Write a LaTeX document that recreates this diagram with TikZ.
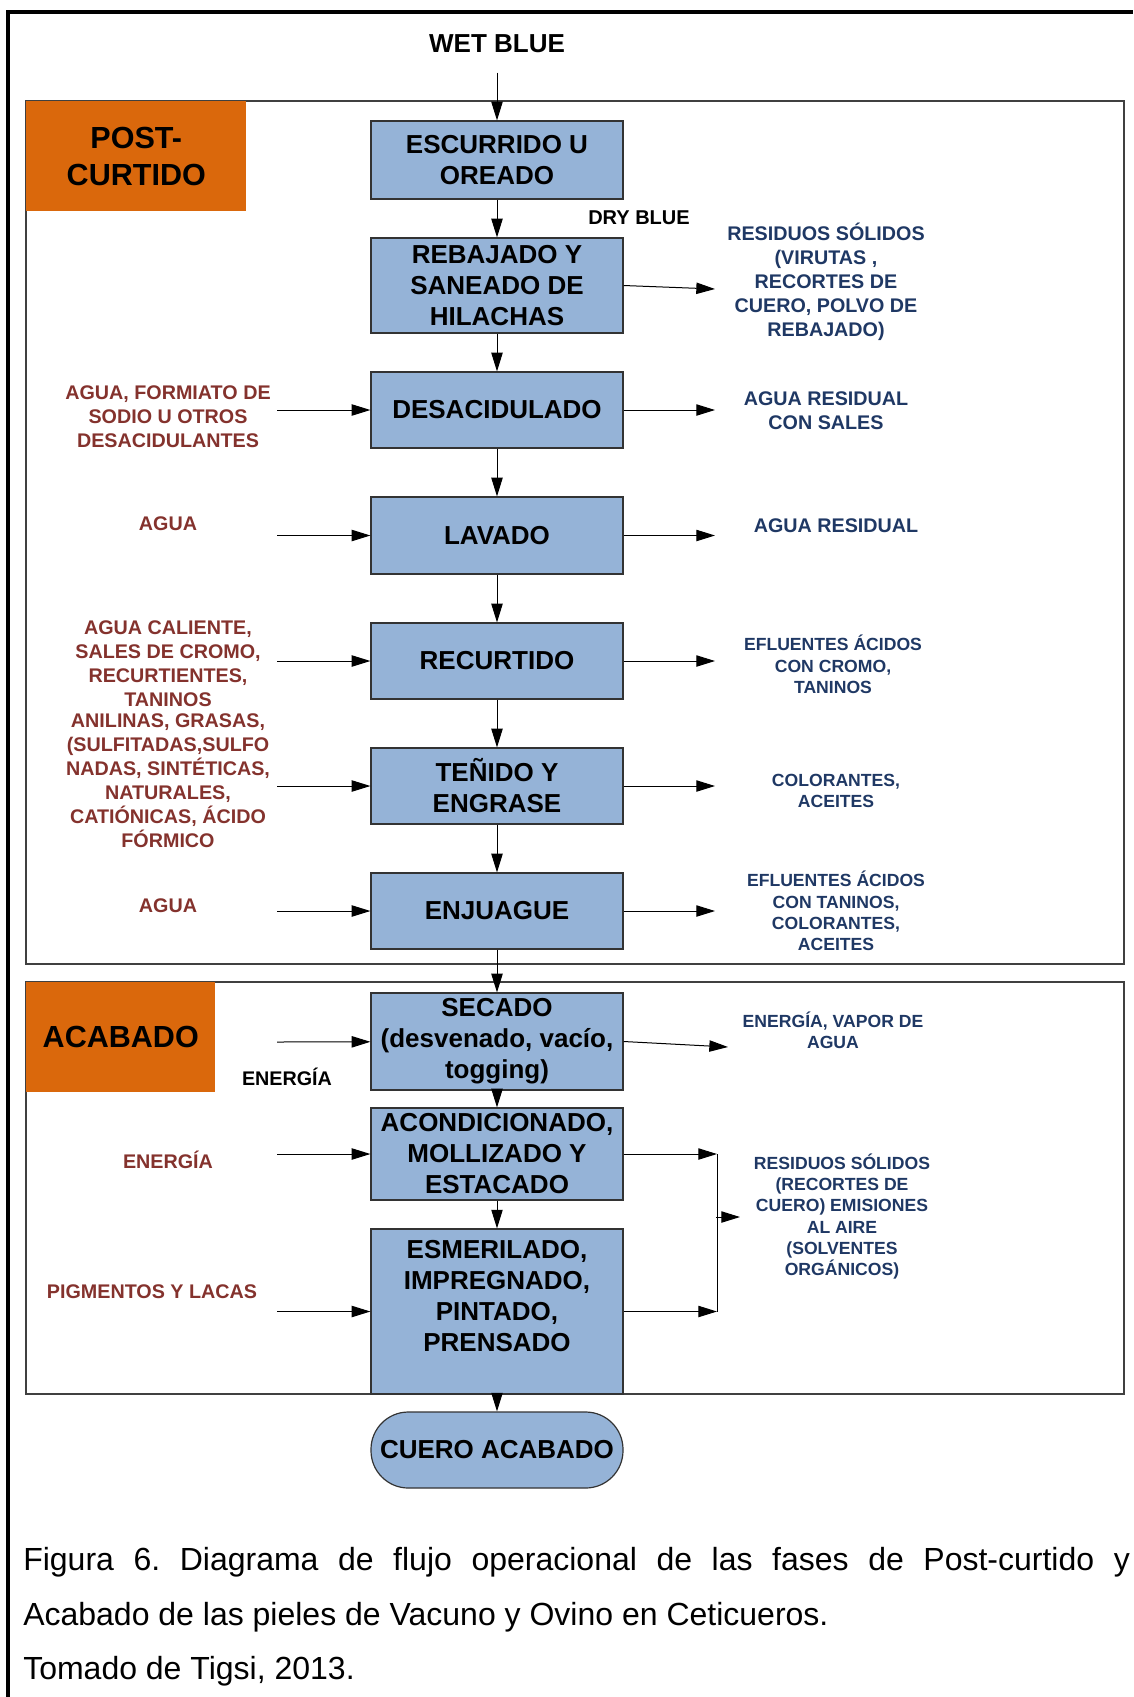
\documentclass[tikz,border=0pt]{standalone}
\usepackage{fontspec}
\setmainfont{Liberation Sans}
\usepackage{tikz}
\usetikzlibrary{arrows.meta}
\frenchspacing

\definecolor{boxblue}{RGB}{149,179,215}
\definecolor{phaseorange}{RGB}{218,104,12}
\definecolor{inred}{RGB}{132,50,45}
\definecolor{outblue}{RGB}{31,56,100}

\begin{document}
\begin{tikzpicture}[x=0.75pt,y=0.75pt,yscale=-1,xscale=1,
  proc/.style={draw=black!80, line width=0.9pt, fill=boxblue, minimum width=189pt, inner sep=0pt, align=center, font=\fontsize{19.5}{23.25}\selectfont\bfseries},
  term/.style={proc, rounded corners=28pt},
  phase/.style={draw=black!75, line width=0.8pt},
  phaselabel/.style={fill=phaseorange, anchor=north west, minimum height=82.5pt, inner sep=0pt, align=center, font=\fontsize{22.9}{27.75}\selectfont\bfseries},
  intext/.style={inner sep=0pt, align=center, text=inred, font=\fontsize{14.8}{18}\selectfont\bfseries},
  outtext/.style={inner sep=0pt, align=center, text=outblue, font=\fontsize{14.8}{18}\selectfont\bfseries},
  outsmall/.style={inner sep=0pt, align=center, text=outblue, font=\fontsize{13.2}{16}\selectfont\bfseries},
  plain/.style={inner sep=0pt, align=center, font=\fontsize{14.8}{18}\selectfont\bfseries},
  capt/.style={inner sep=0pt, anchor=base west, font=\fontsize{24}{29}\selectfont},
  arr/.style={line width=0.75pt, -{Triangle[length=14pt,width=8.5pt]}},
  link/.style={line width=0.75pt}]
\useasboundingbox (0,0) rectangle (1133,1697);

%Frame
\draw [line width=3pt] (8,1697) -- (8,12) -- (1133,12) ;

%Shape: Rectangle (phases)
\draw [phase] (26,101) rectangle (1124,964) ;
\draw [phase] (26,982) rectangle (1124,1394) ;
\node [phaselabel, minimum width=165pt] (post) at (26,101) {POST-\\CURTIDO};
\node [phaselabel, minimum width=141.75pt] (acab) at (26,982) {ACABADO};

% Process boxes
\node [proc, minimum height=58.5pt] (esc) at (497,160) {ESCURRIDO U\\OREADO};
\node [proc, minimum height=71.25pt] (reb) at (497,285.5) {REBAJADO Y\\SANEADO DE\\HILACHAS};
\node [proc, minimum height=57pt] (des) at (497,410) {DESACIDULADO};
\node [proc, minimum height=57.75pt] (lav) at (497,535.5) {LAVADO};
\node [proc, minimum height=57pt] (rec) at (497,661) {RECURTIDO};
\node [proc, minimum height=57pt] (ten) at (497,786) {TEÑIDO Y\\ENGRASE};
\node [proc, minimum height=57pt] (enj) at (497,911) {ENJUAGUE};
\node [proc, minimum height=72.75pt] (sec) at (497,1041.5) {SECADO\\(desvenado, vacío,\\togging)};
\node [proc, minimum height=69pt] (aco) at (497,1154) {ACONDICIONADO,\\MOLLIZADO Y\\ESTACADO};
\node [proc, minimum height=123.75pt] (esm) at (497,1311.5) {ESMERILADO,\\IMPREGNADO,\\PINTADO,\\PRENSADO\\\mbox{}};
\node [term, minimum height=57pt] (cuero) at (497,1450) {CUERO ACABADO};

% Text Node
\node [plain, font=\fontsize{19.5}{23.25}\selectfont\bfseries] (wet) at (497,44) {WET BLUE};
\node [plain, font=\fontsize{15}{18}\selectfont\bfseries] (dry) at (639,218) {DRY BLUE};

% Inputs
\node [intext] (desSrc) at (168,416.5) {AGUA, FORMIATO DE\\SODIO U OTROS\\DESACIDULANTES};
\node [intext] (lavSrc) at (168,524) {AGUA};
\node [intext] (recSrc) at (168,664) {AGUA CALIENTE,\\SALES DE CROMO,\\RECURTIENTES,\\TANINOS};
\node [intext] (tenSrc) at (168,781) {ANILINAS, GRASAS,\\(SULFITADAS,SULFO\\NADAS, SINTÉTICAS,\\NATURALES,\\CATIÓNICAS, ÁCIDO\\FÓRMICO};
\node [intext] (enjSrc) at (168,906) {AGUA};
\node [plain] (secSrc) at (287,1077) {ENERGÍA};
\node [intext] (acoSrc) at (168,1160) {ENERGÍA};
\node [intext] (esmSrc) at (152,1292) {PIGMENTOS Y LACAS};

% Outputs
\node [outtext] (rebRes) at (826,281.5) {RESIDUOS SÓLIDOS\\(VIRUTAS ,\\RECORTES DE\\CUERO, POLVO DE\\REBAJADO)};
\node [outtext] (desRes) at (826,411) {AGUA RESIDUAL\\CON SALES};
\node [outtext] (lavRes) at (836,526) {AGUA RESIDUAL};
\node [outsmall] (recRes) at (833,664.5) {EFLUENTES ÁCIDOS\\CON CROMO,\\TANINOS};
\node [outsmall] (tenRes) at (836,791) {COLORANTES,\\ACEITES};
\node [outsmall] (enjRes) at (836,911) {EFLUENTES ÁCIDOS\\CON TANINOS,\\COLORANTES,\\ACEITES};
\node [outsmall] (secRes) at (833,1030.5) {ENERGÍA, VAPOR DE\\AGUA};
\node [outsmall] (esmRes) at (842,1216.5) {RESIDUOS SÓLIDOS\\(RECORTES DE\\CUERO) EMISIONES\\AL AIRE\\(SOLVENTES\\ORGÁNICOS)};

% Free ends
\coordinate (desIn) at (277,410);
\coordinate (lavIn) at (277,535.5);
\coordinate (recIn) at (277,661);
\coordinate (tenIn) at (277,786);
\coordinate (enjIn) at (277,911);
\coordinate (secIn) at (277,1042);
\coordinate (acoIn) at (277,1154);
\coordinate (esmIn) at (277,1311.5);
\coordinate (rebOut) at (715,289);
\coordinate (desOut) at (715,410);
\coordinate (lavOut) at (715,535.5);
\coordinate (recOut) at (715,661);
\coordinate (tenOut) at (715,786);
\coordinate (enjOut) at (715,911);
\coordinate (secOut) at (728,1047);
\coordinate (colTop) at (717,1154);
\coordinate (colBot) at (717,1311.5);
\coordinate (colMid) at (716,1217);
\coordinate (colOut) at (740,1217);

%Straight Lines (main flow)
\draw [arr, shorten <=14.5pt] (wet) -- (esc) ;
\draw [arr] (esc) -- (reb) ;
\draw [arr] (reb) -- (des) ;
\draw [arr] (des) -- (lav) ;
\draw [arr] (lav) -- (rec) ;
\draw [arr] (rec) -- (ten) ;
\draw [arr] (ten) -- (enj) ;
\draw [arr] (enj) -- (sec) ;
\draw [arr] (sec) -- (aco) ;
\draw [arr] (aco) -- (esm) ;
\draw [arr] (esm) -- (cuero) ;

%Straight Lines (inputs)
\foreach \s in {des,lav,rec,ten,enj,sec,aco,esm}
  \draw [arr] (\s In) -- (\s) ;

%Straight Lines (outputs)
\draw [arr] (reb.east) -- (rebOut) ;
\foreach \s in {des,lav,rec,ten,enj}
  \draw [arr] (\s) -- (\s Out) ;
\draw [arr] (sec.east) -- (secOut) ;
\draw [arr] (aco) -- (colTop) ;
\draw [arr] (esm) -- (colBot) ;
\draw [link] (colTop) -- (colBot) ;
\draw [arr] (colMid) -- (colOut) ;

% Caption
\node [capt] (cap1) at (23,1570) {\makebox[830pt][s]{Figura 6. Diagrama de flujo operacional de las fases de Post-curtido y}};
\node [capt] (cap2) at (23,1625) {Acabado de las pieles de Vacuno y Ovino en Ceticueros.};
\node [capt] (cap3) at (23,1679) {Tomado de Tigsi, 2013.};

\end{tikzpicture}
\end{document}
